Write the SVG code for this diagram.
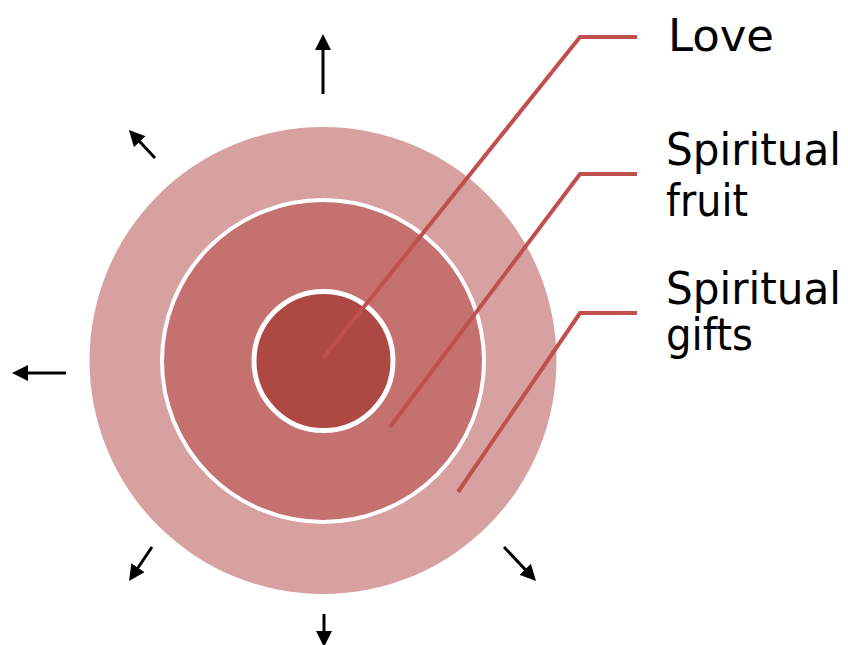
<svg xmlns="http://www.w3.org/2000/svg" width="848" height="645" viewBox="0 0 848 645">
<style>
.lbl{font-family:"DejaVu Sans","Liberation Sans",sans-serif;font-size:44px;fill:#000}
.lead{fill:none;stroke:#C0504D;stroke-width:4}
.arr{stroke:#000;stroke-width:3;marker-end:url(#ah)}
</style>
<defs>
<marker id="ah" markerUnits="userSpaceOnUse" markerWidth="16" markerHeight="16" refX="10" refY="8" orient="auto" viewBox="0 0 16 16">
<path d="M0,0 L16,8 L0,16 Z" fill="#000"/>
</marker>
</defs>
<rect width="848" height="645" fill="#fff"/>
<g id="outer"><circle cx="323" cy="360.5" r="233.5" fill="#D8A1A1"/></g>
<g id="middle"><circle cx="323" cy="361" r="161" fill="#C4716F" stroke="#fff" stroke-width="4"/></g>
<g id="inner"><circle cx="323.5" cy="361" r="69.5" fill="#AD4843" stroke="#fff" stroke-width="5"/></g>
<g id="connectors">
<polyline class="lead" points="323,358 580,37 637,37"/>
<polyline class="lead" points="390,427 580,174 637,174"/>
<polyline class="lead" points="458,492 580,313 637,313"/>
<line class="arr" x1="323" y1="94" x2="323" y2="40"/>
<line class="arr" x1="155" y1="158" x2="133" y2="134.4"/>
<line class="arr" x1="66" y1="373" x2="18" y2="373"/>
<line class="arr" x1="152" y1="547" x2="132.4" y2="576"/>
<line class="arr" x1="324" y1="614" x2="324" y2="641"/>
<line class="arr" x1="504" y1="547" x2="531.9" y2="576.6"/>
</g>
<g id="label-love"><text class="lbl" x="668" y="51" textLength="106" lengthAdjust="spacingAndGlyphs">Love</text></g>
<g id="label-fruit"><text class="lbl" x="666" y="165" textLength="175" lengthAdjust="spacingAndGlyphs">Spiritual</text><text class="lbl" x="666" y="216" textLength="82" lengthAdjust="spacingAndGlyphs">fruit</text></g>
<g id="label-gifts"><text class="lbl" x="666" y="304" textLength="175" lengthAdjust="spacingAndGlyphs">Spiritual</text><text class="lbl" x="666" y="350" textLength="87" lengthAdjust="spacingAndGlyphs">gifts</text></g>
</svg>
